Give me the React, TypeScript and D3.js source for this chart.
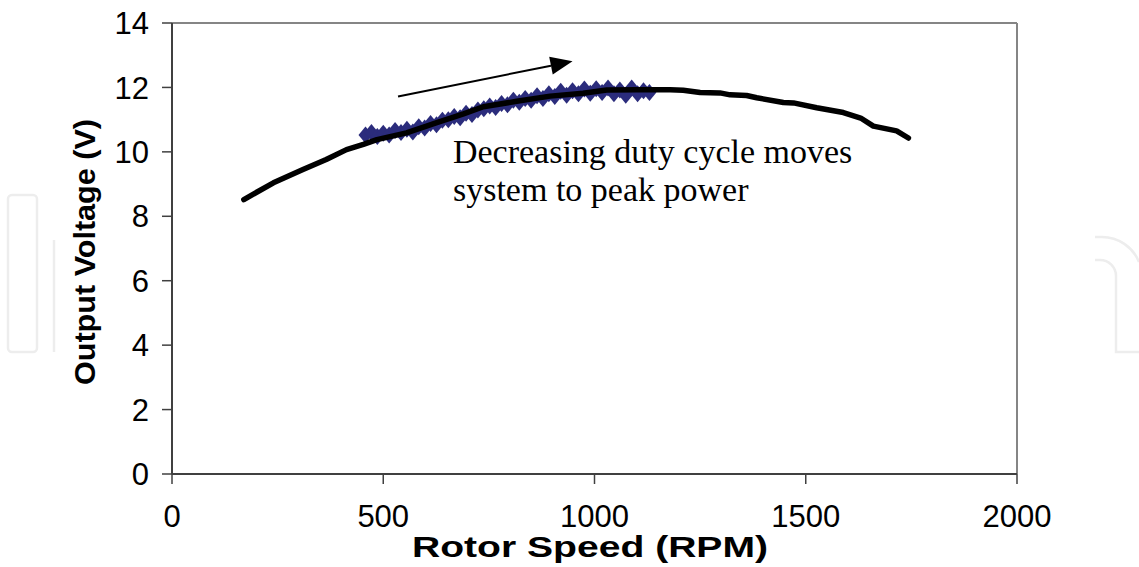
import React from "react";
import * as d3 from "d3";

// Black curve: rotor speed (RPM) vs output voltage (V)
const curveRpm = [170, 240, 310, 365, 413, 453, 485, 555, 625, 690, 737, 816, 895, 973, 1029, 1100, 1179, 1210, 1250, 1297, 1321, 1360, 1384, 1447, 1471, 1526, 1589, 1630, 1660, 1715, 1743];
const curveVolt = [8.52, 9.04, 9.45, 9.76, 10.07, 10.23, 10.38, 10.59, 10.9, 11.18, 11.4, 11.57, 11.73, 11.82, 11.92, 11.93, 11.93, 11.91, 11.84, 11.83, 11.77, 11.75, 11.68, 11.53, 11.52, 11.37, 11.22, 11.05, 10.8, 10.65, 10.43];

// Measured points (diamonds)
const measRpm = [458, 472, 486, 500, 514, 528, 542, 556, 570, 584, 598, 612, 626, 640, 654, 668, 682, 696, 710, 724, 738, 752, 766, 780, 794, 808, 822, 836, 850, 864, 878, 892, 906, 920, 934, 948, 962, 976, 990, 1004, 1018, 1032, 1046, 1060, 1074, 1088, 1102, 1116, 1130];
const measVolt = [10.52, 10.6, 10.48, 10.58, 10.52, 10.66, 10.6, 10.7, 10.62, 10.78, 10.74, 10.88, 10.84, 10.98, 11.0, 11.1, 11.06, 11.2, 11.16, 11.3, 11.34, 11.42, 11.38, 11.5, 11.46, 11.6, 11.54, 11.66, 11.6, 11.74, 11.66, 11.8, 11.72, 11.88, 11.76, 11.9, 11.8, 11.95, 11.82, 11.96, 11.84, 11.98, 11.8, 11.92, 11.76, 11.98, 11.8, 11.9, 11.84];

const xTicks = [0, 500, 1000, 1500, 2000];
const yTicks = [0, 2, 4, 6, 8, 10, 12, 14];

const annotationLines = ["Decreasing duty cycle moves", "system to peak power"];
const arrowFrom = [535, 11.72];
const arrowTo = [948, 12.81];
const textAnchorPt = [665, 9.64];

export default function App() {
  const W = 1139, H = 567;
  const x = d3.scaleLinear().domain([0, 2000]).range([172, 1017]);
  const y = d3.scaleLinear().domain([0, 14]).range([474, 23]);

  const curve = curveRpm.map((r, i) => [r, curveVolt[i]] as [number, number]);
  const line = d3.line<[number, number]>().x(d => x(d[0])).y(d => y(d[1]));
  const meas = measRpm.map((r, i) => [r, measVolt[i]]);

  const dw = 7, dh = 8.5;
  const diamond = `M0,${-dh}L${dw},0L0,${dh}L${-dw},0Z`;

  const ax0 = x(arrowFrom[0]), ay0 = y(arrowFrom[1]);
  const ax1 = x(arrowTo[0]), ay1 = y(arrowTo[1]);
  const ang = Math.atan2(ay1 - ay0, ax1 - ax0);
  const hl = 22, hw = 9;
  const bx = ax1 - hl * Math.cos(ang), by = ay1 - hl * Math.sin(ang);
  const head = `M${ax1},${ay1}L${bx + hw * Math.sin(ang)},${by - hw * Math.cos(ang)}L${bx - hw * Math.sin(ang)},${by + hw * Math.cos(ang)}Z`;

  const sans = "Arial, 'Liberation Sans', Helvetica, sans-serif";
  const serif = "'Times New Roman', 'Liberation Serif', serif";

  return (
    <svg width={W} height={H} style={{ position: "absolute", left: 0, top: 0, background: "#fff" }}>
      {/* faint watermark shapes */}
      <g fill="none" stroke="#ededed" strokeWidth={2.5}>
        <rect x={8} y={195} width={29} height={157} rx={4} />
        <line x1={54} y1={240} x2={54} y2={352} />
        <path d="M1095,237 L1102,237 A40,40 0 0 1 1139,262" />
        <path d="M1095,260 L1100,260 A16,16 0 0 1 1116,276 L1116,352 L1139,352" />
      </g>

      {/* frame */}
      <line x1={x(0)} y1={y(14)} x2={x(2000)} y2={y(14)} stroke="#858585" strokeWidth={2} />
      <line x1={x(2000)} y1={y(14)} x2={x(2000)} y2={y(0)} stroke="#858585" strokeWidth={2} />
      <line x1={x(0)} y1={y(0)} x2={x(2000)} y2={y(0)} stroke="#404040" strokeWidth={2} />
      <line x1={x(0)} y1={y(0)} x2={x(0)} y2={y(14)} stroke="#404040" strokeWidth={2} />

      {/* y ticks */}
      {yTicks.map(t => (
        <g key={"y" + t}>
          <line x1={x(0) - 10} x2={x(0)} y1={y(t)} y2={y(t)} stroke="#404040" strokeWidth={1.5} />
          <text x={x(0) - 23} y={y(t)} dy="0.36em" textAnchor="end" fontFamily={sans} fontSize={31} fill="#000">{t}</text>
        </g>
      ))}
      {/* x ticks */}
      {xTicks.map(t => (
        <g key={"x" + t}>
          <line x1={x(t)} x2={x(t)} y1={y(0)} y2={y(0) + 10} stroke="#404040" strokeWidth={1.5} />
          <text x={x(t)} y={527} textAnchor="middle" fontFamily={sans} fontSize={31} fill="#000">{t}</text>
        </g>
      ))}

      {/* axis titles */}
      <text x={590} y={557} textAnchor="middle" fontFamily={sans} fontWeight="bold" fontSize={29} textLength={356} lengthAdjust="spacingAndGlyphs">Rotor Speed (RPM)</text>
      <text transform={`translate(95,252) rotate(-90)`} textAnchor="middle" fontFamily={sans} fontWeight="bold" fontSize={29} textLength={266} lengthAdjust="spacingAndGlyphs">Output Voltage (V)</text>

      {/* measured diamonds */}
      <g fill="#2B2C7C">
        {meas.map((d, i) => (
          <path key={i} d={diamond} transform={`translate(${x(d[0])},${y(d[1])})`} />
        ))}
      </g>

      {/* curve */}
      <path d={line(curve) || ""} fill="none" stroke="#000" strokeWidth={5.5} strokeLinejoin="round" strokeLinecap="round" />

      {/* arrow annotation */}
      <line x1={ax0} y1={ay0} x2={bx} y2={by} stroke="#000" strokeWidth={2} />
      <path d={head} fill="#000" />

      {/* text annotation */}
      <text fontFamily={serif} fontSize={34} fill="#000">
        {annotationLines.map((s, i) => (
          <tspan key={i} x={x(textAnchorPt[0])} y={y(textAnchorPt[1]) + i * 38}>{s}</tspan>
        ))}
      </text>
    </svg>
  );
}
